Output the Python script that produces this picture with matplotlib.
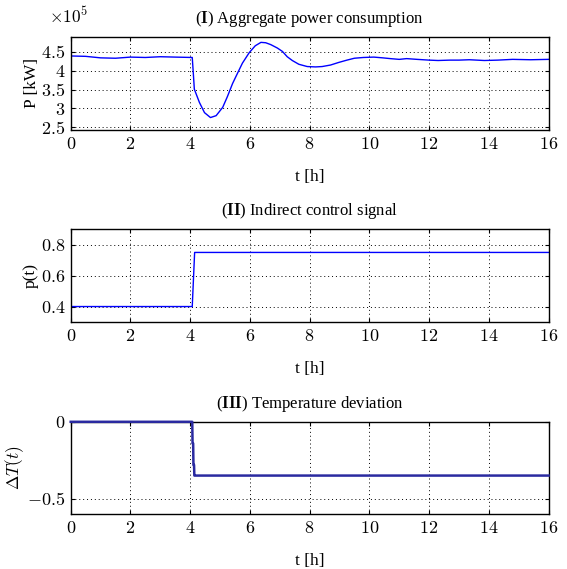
import numpy as np
import matplotlib
matplotlib.use("Agg")
import matplotlib.pyplot as plt
from matplotlib.ticker import FuncFormatter

plt.rcParams['font.family'] = ['Liberation Serif', 'DejaVu Serif']
plt.rcParams['mathtext.fontset'] = 'cm'

# (I) aggregate power, in units of 1e5 kW
t_power = [0, 0.5, 1.0, 1.5, 2.0, 2.5, 3.0, 3.5, 4.07, 4.1, 4.14, 4.31, 4.48,
           4.68, 4.87, 5.09, 5.25, 5.42, 5.59, 5.75, 5.98, 6.18, 6.37, 6.53,
           6.7, 6.92, 7.09, 7.25, 7.42, 7.64, 7.92, 8.2, 8.42, 8.7, 8.98, 9.25,
           9.5, 9.8, 10.15, 10.45, 10.7, 11.0, 11.25, 11.6, 12.0, 12.3, 12.7,
           13.0, 13.35, 13.85, 14.3, 14.8, 15.4, 16.0]
power = [4.39, 4.38, 4.34, 4.33, 4.36, 4.35, 4.37, 4.36, 4.35, 4.0, 3.51, 3.16,
         2.89, 2.76, 2.81, 3.03, 3.32, 3.66, 3.94, 4.20, 4.48, 4.66, 4.75,
         4.74, 4.69, 4.60, 4.51, 4.37, 4.27, 4.17, 4.11, 4.10, 4.11, 4.15,
         4.22, 4.28, 4.33, 4.35, 4.36, 4.34, 4.32, 4.30, 4.32, 4.30, 4.28,
         4.27, 4.28, 4.28, 4.29, 4.27, 4.28, 4.30, 4.29, 4.30]

# (II) indirect control signal
t_signal = [0, 4.07, 4.15, 16]
signal = [0.4, 0.4, 0.75, 0.75]

# (III) temperature deviation
t_temp = [0, 4.07, 4.08, 4.1, 4.11, 4.13, 4.14, 4.17, 16]
temp = [0, 0, -0.14, -0.14, -0.28, -0.28, -0.35, -0.35, -0.35]

x_ticks = np.arange(0, 17, 2)

fig = plt.figure(figsize=(5.67, 5.69), dpi=100)
left, width = 0.1247, 0.8427
ax1 = fig.add_axes([left, 0.7715, width, 0.164])
ax2 = fig.add_axes([left, 0.4341, width, 0.163])
ax3 = fig.add_axes([left, 0.0967, width, 0.162])

math_fmt = FuncFormatter(lambda v, pos: '$%g$' % v)

def style(ax, yticks, ylim, title, ylabel):
    ax.set_xlim(0, 16)
    ax.set_ylim(*ylim)
    ax.set_xticks(x_ticks)
    ax.set_yticks(yticks)
    ax.xaxis.set_major_formatter(math_fmt)
    ax.yaxis.set_major_formatter(math_fmt)
    ax.tick_params(direction='in', top=True, right=True, labelsize=13,
                   length=3, width=0.8, pad=4)
    ax.grid(True, linestyle=(0, (1, 3)), color='k', linewidth=0.7)
    for sp in ax.spines.values():
        sp.set_linewidth(1.0)
    ax.set_title(title, fontsize=12, pad=10)
    ax.set_xlabel('t [h]', fontsize=12.5, labelpad=12)
    ax.set_ylabel(ylabel, fontsize=12.5, labelpad=1)

ax1.plot(t_power, power, color='#0000ff', linewidth=1.0)
style(ax1, [2.5, 3, 3.5, 4, 4.5], (2.43, 4.9),
      r'($\mathbf{I}$) Aggregate power consumption', 'P [kW]')
ax1.text(-0.045, 1.15, r'$\times10^5$', transform=ax1.transAxes,
         fontsize=12.5, va='baseline', ha='left')

ax2.plot(t_signal, signal, color='#0000ff', linewidth=1.0)
style(ax2, [0.4, 0.6, 0.8], (0.3, 0.9),
      r'($\mathbf{II}$) Indirect control signal', 'p(t)')

ax3.plot(t_temp, temp, color='#2a2aa0', linewidth=1.8, zorder=5,
         clip_on=False)
style(ax3, [-0.5, 0], (-0.6, 0),
      r'($\mathbf{III}$) Temperature deviation', r'$\Delta T(t)$')

fig.savefig('out.png', dpi=100)
